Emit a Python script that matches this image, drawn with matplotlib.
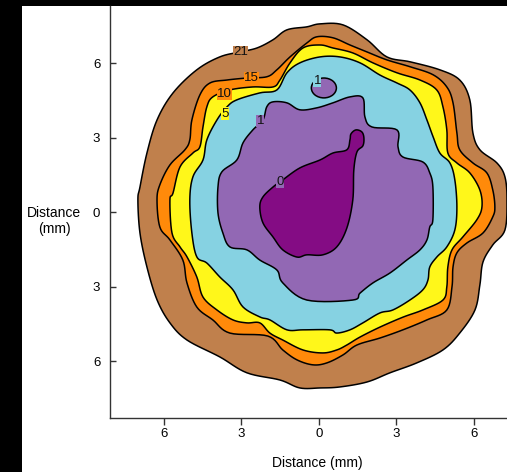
import numpy as np
import matplotlib.pyplot as plt
from matplotlib.patches import Rectangle, Ellipse

plt.rcParams['font.family'] = ['Liberation Sans', 'DejaVu Sans']

# contour levels, outermost first, and the fill inside each outline
levels = [21, 15, 10, 5, 1, 0]
fills = ['#c0804c', '#ff8a0a', '#fff71a', '#86d2e2', '#9268b4', '#840c84']

# outlines (mm)
x21 = [0.05, 0.94, 1.87, 2.64, 3.55, 4.69, 5.46, 5.85, 5.97, 6.24, 6.90, 7.21, 7.29, 7.21,
       6.74, 6.36, 6.24, 6.05, 5.46, 4.81, 3.80, 2.76, 1.87, 0.82, 0.05, -0.73, -1.50, -2.78,
       -3.83, -5.10, -5.76, -6.26, -6.65, -6.92, -7.00, -6.92, -6.65, -6.26, -5.64, -4.72,
       -3.83, -3.05, -2.39, -1.77, -1.23, -0.46]
y21 = [7.58, 7.54, 6.94, 6.25, 6.05, 5.73, 5.32, 4.52, 3.19, 2.51, 1.98, 1.42, 0.49, -0.72,
       -1.32, -2.01, -2.93, -3.94, -4.87, -5.55, -6.07, -6.47, -6.84, -7.04, -7.08, -7.08,
       -6.76, -6.47, -5.83, -5.15, -4.46, -3.53, -2.21, -0.84, 0.49, 1.01, 2.38, 3.71, 4.80,
       5.73, 6.25, 6.45, 6.61, 6.94, 7.34, 7.46]

x15 = [-0.07, 0.55, 1.21, 1.87, 2.64, 3.55, 4.43, 4.96, 5.20, 5.35, 5.46, 5.97, 6.51, 6.74,
       6.82, 6.74, 6.36, 5.74, 5.35, 5.20, 5.16, 4.96, 4.19, 3.26, 2.37, 1.48, 0.94, 0.32,
       -0.22, -0.84, -1.39, -1.97, -3.44, -4.10, -4.72, -5.10, -5.26, -5.76, -6.15, -6.26,
       -6.15, -5.76, -5.18, -4.99, -4.91, -4.60, -4.21, -3.55, -2.78, -2.01, -1.62, -1.11, -0.46]
y15 = [7.06, 7.02, 6.73, 6.45, 6.13, 5.85, 5.53, 5.04, 4.40, 3.19, 2.51, 1.98, 1.58, 0.89,
       0.21, -0.19, -0.84, -1.24, -1.64, -2.21, -3.01, -3.94, -4.34, -4.74, -5.07, -5.35,
       -5.75, -6.07, -6.15, -5.95, -5.55, -4.99, -4.87, -4.34, -3.82, -2.85, -1.93, -1.12,
       -0.60, 0.49, 1.10, 1.90, 2.51, 2.91, 3.71, 4.72, 5.20, 5.32, 5.40, 5.45, 5.73, 6.25, 6.81]

x10 = [0.05, 0.55, 1.32, 2.10, 3.03, 3.92, 4.57, 4.81, 4.96, 5.00, 5.35, 5.85, 6.24, 6.32,
       6.12, 5.58, 5.16, 5.00, 4.96, 4.81, 4.03, 3.26, 2.37, 1.60, 1.09, 0.70, 0.16, -0.61,
       -1.39, -1.89, -2.28, -2.78, -3.32, -3.94, -4.48, -4.72, -5.10, -5.37, -5.68, -5.76,
       -5.64, -5.37, -4.87, -4.60, -4.48, -4.33, -4.10, -3.44, -2.55, -1.77, -1.50, -1.11, -0.61]
y10 = [6.73, 6.61, 6.41, 6.01, 5.61, 5.32, 4.92, 4.24, 3.31, 2.38, 1.98, 1.58, 0.89, 0.21,
       -0.31, -1.00, -1.52, -2.21, -3.01, -3.54, -3.94, -4.23, -4.63, -5.03, -5.35, -5.55,
       -5.67, -5.55, -5.15, -4.87, -4.46, -4.46, -4.34, -3.94, -3.42, -2.61, -1.80, -1.40,
       -0.84, 0.49, 0.77, 1.82, 2.38, 2.63, 3.43, 4.24, 4.64, 4.92, 5.04, 5.04, 5.32, 6.01, 6.61]

x5 = [-0.73, 0.05, 0.82, 1.60, 2.37, 3.03, 3.53, 3.92, 4.19, 4.43, 4.69, 5.08, 5.27, 5.35,
      5.27, 4.96, 4.58, 4.30, 4.23, 4.03, 3.53, 2.87, 2.37, 1.71, 1.21, 0.70, 0.43, -0.61,
      -1.23, -1.89, -2.28, -2.93, -3.32, -3.83, -4.33, -4.72, -4.91, -4.99, -4.87, -4.48,
      -4.33, -3.94, -3.55, -3.17, -2.28, -1.62, -1.23]
y5 = [6.01, 6.25, 6.25, 6.01, 5.52, 5.20, 4.92, 4.40, 3.71, 3.03, 2.38, 1.98, 1.30, 0.21,
      -0.72, -1.40, -1.80, -2.21, -2.73, -3.13, -3.54, -3.94, -4.06, -4.46, -4.74, -4.87,
      -4.74, -4.74, -4.74, -4.34, -4.22, -3.82, -3.13, -2.61, -2.05, -1.80, -0.84, 0.49, 1.42,
      2.10, 2.91, 3.71, 4.24, 4.52, 4.80, 4.92, 5.61]

x1 = [-0.73, -0.07, 0.55, 1.21, 1.71, 1.79, 2.06, 3.03, 3.07, 3.26, 4.03, 4.30, 4.42, 4.42,
      4.30, 4.19, 3.92, 3.41, 2.76, 2.10, 1.60, 1.32, -0.46, -1.39, -1.62, -2.28, -2.78,
      -3.44, -3.71, -3.90, -3.90, -3.75, -3.17, -2.93, -2.55, -2.16, -2.01, -1.77, -1.23]
y1 = [4.12, 4.20, 4.40, 4.64, 4.60, 3.83, 3.43, 3.31, 2.63, 2.22, 2.02, 1.58, 1.02, -0.31,
      -0.60, -1.12, -1.52, -1.93, -2.45, -2.85, -3.26, -3.54, -3.54, -2.85, -2.33, -1.93,
      -1.52, -1.40, -0.84, -0.03, 1.01, 1.62, 2.10, 2.79, 3.31, 3.71, 4.24, 4.44, 4.40]

x0 = [1.21, 1.25, 1.44, 1.67, 1.75, 1.71, 1.48, 1.36, 1.32, 1.09, 0.70, 0.16, -0.46, -0.84,
      -1.39, -1.77, -2.16, -2.28, -2.16, -1.77, -1.39, -0.73, 0.05, 0.55, 1.09]
y0 = [2.91, 3.15, 3.31, 3.23, 2.99, 2.67, 2.42, 1.70, 0.49, -0.64, -1.40, -1.72, -1.72, -1.81,
      -1.52, -1.00, -0.43, 0.21, 0.61, 1.01, 1.30, 1.78, 2.10, 2.38, 2.51]

# small closed "1" contour near the top
island_c = (0.20, 5.00)
island_w, island_h = 0.97, 0.80

outlines_x = [x21, x15, x10, x5, x1, x0]
outlines_y = [y21, y15, y10, y5, y1, y0]

lab_text = ['21', '15', '10', '5', '1', '1', '0']
lab_x = [-3.03, -2.61, -3.65, -3.63, -2.26, -0.05, -1.50]
lab_y = [6.45, 5.40, 4.76, 3.97, 3.67, 5.28, 1.22]
lab_bg = [fills[0], fills[1], fills[1], fills[2], fills[4], fills[3], fills[4]]


def smooth_closed(xs, ys, n=8):
    # closed Catmull-Rom curve through the read points
    p = np.column_stack([xs, ys])
    p0, p1, p2, p3 = np.roll(p, 1, 0), p, np.roll(p, -1, 0), np.roll(p, -2, 0)
    t = np.linspace(0, 1, n, endpoint=False)[:, None, None]
    c = 0.5 * ((2 * p1) + (-p0 + p2) * t + (2 * p0 - 5 * p1 + 4 * p2 - p3) * t ** 2
               + (-p0 + 3 * p1 - 3 * p2 + p3) * t ** 3)
    c = c.transpose(1, 0, 2).reshape(-1, 2)
    return c[:, 0], c[:, 1]


fig = plt.figure(figsize=(5.07, 4.72), dpi=100, facecolor='black')
fig.patches.append(Rectangle((22 / 507, 0), 1, 466 / 472, transform=fig.transFigure,
                             facecolor='white', edgecolor='none', zorder=-1))
ax = fig.add_axes([110 / 507, 54 / 472, 397 / 507, 412 / 472])

for xs, ys, c in zip(outlines_x, outlines_y, fills):
    sx, sy = smooth_closed(xs, ys)
    ax.fill(sx, sy, facecolor=c, edgecolor='black', linewidth=1.1)
ax.add_patch(Ellipse(island_c, island_w, island_h, facecolor=fills[4],
                     edgecolor='black', linewidth=1.1))

for t, x, y, bg in zip(lab_text, lab_x, lab_y, lab_bg):
    ax.text(x, y, t, ha='center', va='center', fontsize=9.5, color='#111111',
            bbox=dict(boxstyle='square,pad=0.02', fc=bg, ec='none'))

ax.set_xlim(-8.08, 7.29)
ax.set_ylim(-8.29, 8.30)
ticks = [-6, -3, 0, 3, 6]
ax.set_xticks(ticks)
ax.set_xticklabels([str(abs(t)) for t in ticks])
ax.set_yticks(ticks)
ax.set_yticklabels([str(abs(t)) for t in ticks])
ax.tick_params(axis='x', direction='out', length=5, width=1, pad=2.5,
               labelsize=9.5, color='#333333')
ax.tick_params(axis='y', direction='in', length=4.5, width=1, pad=7,
               labelsize=9.5, color='#333333')
for s in ['top', 'right']:
    ax.spines[s].set_visible(False)
for s in ['left', 'bottom']:
    ax.spines[s].set_color('#333333')
    ax.spines[s].set_linewidth(1.0)

ax.set_xlabel('Distance (mm)', fontsize=10, va='center')
ax.xaxis.set_label_coords(0.521, -0.110)
ax.set_ylabel('Distance\n(mm)', fontsize=10, rotation=0, ha='center', va='center',
              multialignment='center')
ax.yaxis.set_label_coords(-0.141, 0.478)

fig.savefig('out.png', dpi=100, facecolor=fig.get_facecolor())
